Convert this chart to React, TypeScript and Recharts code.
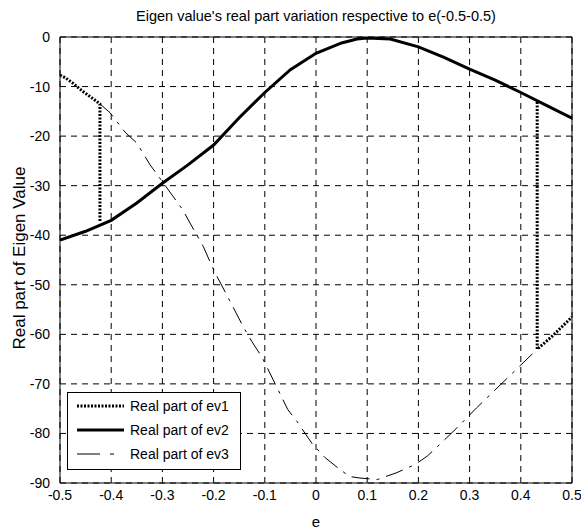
import {
  LineChart,
  Line,
  XAxis,
  YAxis,
  CartesianGrid,
  ReferenceArea,
} from "recharts"

const xTicks = [-0.5, -0.4, -0.3, -0.2, -0.1, 0, 0.1, 0.2, 0.3, 0.4, 0.5]
const yTicks = [0, -10, -20, -30, -40, -50, -60, -70, -80, -90]

// ev1: dotted, jumps at both ends (hidden under ev2 in the middle)
const ev1E = [-0.5, -0.49, -0.475, -0.455, -0.435, -0.422, -0.422, 0, 0.432, 0.432, 0.46, 0.5]
const ev1V = [-7.7, -8.2, -9.3, -11.0, -12.5, -13.5, -37.3, null, -13.1, -63.0, -60.5, -56.5]

// ev2: solid
const ev2E = [-0.5, -0.45, -0.4, -0.35, -0.3, -0.25, -0.2, -0.15, -0.1, -0.05, 0, 0.05, 0.08, 0.1, 0.145, 0.2, 0.25, 0.3, 0.35, 0.4, 0.45, 0.5]
const ev2V = [-41.0, -39.2, -37.0, -33.5, -29.5, -25.8, -21.8, -16.3, -11.2, -6.6, -3.3, -1.2, -0.4, -0.2, -0.4, -2.0, -4.1, -6.5, -8.7, -11.2, -13.8, -16.4]

// ev3: dash-dot
const ev3E = [-0.422, -0.402, -0.373, -0.35, -0.324, -0.3, -0.26, -0.242, -0.22, -0.2, -0.162, -0.142, -0.125, -0.105, -0.074, -0.055, -0.037, -0.006, 0.018, 0.047, 0.066, 0.086, 0.12, 0.158, 0.193, 0.217, 0.248, 0.275, 0.314, 0.35, 0.4, 0.432]
const ev3V = [-13.5, -15.3, -19.2, -21.4, -25.8, -29.2, -34.9, -38.3, -42.3, -47.0, -54.5, -58.5, -61.5, -64.7, -71.2, -75.2, -77.6, -82.3, -84.9, -87.3, -88.7, -89.0, -89.3, -87.9, -86.3, -84.6, -81.6, -78.9, -74.8, -71.2, -66.2, -63.0]

const toSeries = (es: number[], vs: (number | null)[]) =>
  es.map((e, i) => ({ e, v: vs[i] }))

const series = [
  { name: "Real part of ev1", data: toSeries(ev1E, ev1V), width: 3, dash: "2 1.5", legendDash: "2 1.5" },
  { name: "Real part of ev2", data: toSeries(ev2E, ev2V), width: 3, dash: undefined, legendDash: undefined },
  { name: "Real part of ev3", data: toSeries(ev3E, ev3V), width: 1, dash: "18 7 3 7", legendDash: "23 10 4 20" },
]

const font = "'Liberation Sans', Arial, sans-serif"

const fmt = (v: number) => (v === 0 ? "0" : String(v))

function LegendBox() {
  return (
    <div
      style={{
        position: "absolute",
        left: 67,
        top: 392,
        width: 172,
        border: "1px solid #000",
        background: "#fff",
        padding: "1px 0 3px 0",
        fontFamily: font,
        fontSize: 14,
      }}
    >
      {series.map((s) => (
        <div key={s.name} style={{ display: "flex", alignItems: "center", height: 24 }}>
          <svg width={56} height={10} style={{ marginLeft: 6 }}>
            <line
              x1={3}
              y1={5}
              x2={50}
              y2={5}
              stroke="#000"
              strokeWidth={s.width}
              strokeDasharray={s.legendDash}
            />
          </svg>
          <span style={{ color: "#000" }}>{s.name}</span>
        </div>
      ))}
    </div>
  )
}

export default function App() {
  return (
    <div style={{ position: "absolute", left: 0, top: 0, width: 581, height: 530, background: "#fff" }}>
      <LineChart
        width={581}
        height={530}
        margin={{ top: 37, right: 9, bottom: 7, left: 0 }}
      >
        <CartesianGrid stroke="#000" strokeDasharray="6 5" strokeWidth={1} />
        <XAxis
          dataKey="e"
          type="number"
          domain={[-0.5, 0.5]}
          ticks={xTicks}
          tickFormatter={fmt}
          allowDataOverflow
          height={40}
          tickLine={false}
          axisLine={false}
          tickSize={4}
          tickMargin={3}
          tick={{ fill: "#000", fontSize: 14, fontFamily: font }}
        />
        <YAxis
          type="number"
          domain={[-90, 0]}
          ticks={yTicks}
          allowDataOverflow
          width={60}
          tickLine={false}
          axisLine={false}
          tickSize={4}
          tickMargin={6}
          tick={{ fill: "#000", fontSize: 14, fontFamily: font }}
        />
        <ReferenceArea
          x1={-0.5}
          x2={0.5}
          y1={-90}
          y2={0}
          fill="none"
          stroke="#000"
          strokeWidth={1}
        />
        {series.map((s) => (
          <Line
            key={s.name}
            name={s.name}
            data={s.data}
            dataKey="v"
            stroke="#000"
            strokeWidth={s.width}
            strokeDasharray={s.dash}
            dot={false}
            activeDot={false}
            isAnimationActive={false}
            connectNulls={false}
            type="linear"
          />
        ))}
      </LineChart>
      <div
        style={{
          position: "absolute",
          top: 8,
          left: 60,
          width: 512,
          textAlign: "center",
          fontFamily: font,
          fontSize: 14.5,
          color: "#000",
        }}
      >
        Eigen value's real part variation respective to e(-0.5-0.5)
      </div>
      <div
        style={{
          position: "absolute",
          left: 20,
          top: 258,
          transform: "translate(-50%, -50%) rotate(-90deg)",
          whiteSpace: "nowrap",
          fontFamily: font,
          fontSize: 17,
          color: "#000",
        }}
      >
        Real part of Eigen Value
      </div>
      <div
        style={{
          position: "absolute",
          left: 316,
          top: 521,
          transform: "translate(-50%, -50%)",
          fontFamily: font,
          fontSize: 15,
          color: "#000",
        }}
      >
        e
      </div>
      <LegendBox />
    </div>
  )
}
